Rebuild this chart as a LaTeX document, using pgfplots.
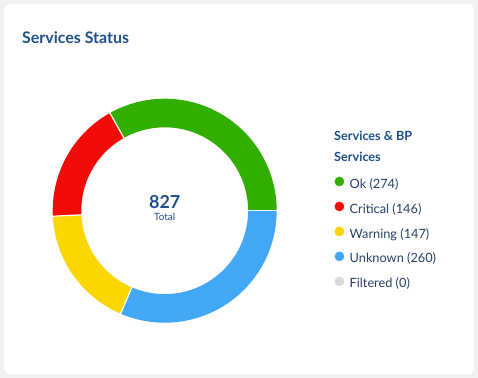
\documentclass[border=0pt]{standalone}
\usepackage{pgfplots}
\pgfplotsset{compat=1.18}
\usepackage{fontspec}
\setmainfont{Lato}
\definecolor{bgcol}{RGB}{240,241,243}
\definecolor{titlecol}{RGB}{30,79,138}
\definecolor{legtext}{RGB}{38,64,104}
\definecolor{okgreen}{RGB}{50,174,0}
\definecolor{critred}{RGB}{242,12,7}
\definecolor{warnyellow}{RGB}{252,214,0}
\definecolor{unkblue}{RGB}{66,167,245}
\definecolor{filtgray}{RGB}{217,217,217}
% counts
\newcommand\vOk{274}
\newcommand\vCrit{146}
\newcommand\vWarn{147}
\newcommand\vUnk{260}
\newcommand\vFilt{0}
\begin{document}
\begin{tikzpicture}
\pgfmathsetmacro\total{\vOk+\vCrit+\vWarn+\vUnk+\vFilt}
\pgfmathsetmacro\aU{-\vUnk/\total*360}
\pgfmathsetmacro\aW{\aU-\vWarn/\total*360}
\pgfmathsetmacro\aC{\aW-\vCrit/\total*360}
\path[use as bounding box] (0,0) rectangle (478bp,378bp);
\fill[bgcol] (0,0) rectangle (478bp,378bp);
\fill[white, rounded corners=6bp] (4bp,4bp) rectangle (474bp,374bp);
\node[anchor=base west, inner sep=0, font=\fontsize{16}{18}\selectfont\bfseries, text=titlecol] at (22bp,334bp) {Services Status};
\begin{axis}[x=1bp, y=1bp, hide axis, xmin=-120, xmax=120, ymin=-120, ymax=120,
  at={(164.7bp,167.3bp)}, anchor=origin, clip=false,
  legend style={at={(axis cs:169.7,34.2)}, anchor=north west, draw=none, fill=none,
    inner sep=0pt, font=\fontsize{12.8}{15}\selectfont, text=legtext,
    row sep=10.5bp, legend cell align=left,
    nodes={inner sep=0pt, text height=9.5bp, text depth=3bp},
    /tikz/every odd column/.append style={column sep=5.5bp}},
  legend image code/.code={\fill (4.6bp,3.4bp) circle (4.6bp);}]
\addplot[forget plot, okgreen, line width=28.6bp, domain=-360:\aC, samples=120] ({97.7*cos(x)},{97.7*sin(x)});
\addplot[forget plot, critred, line width=28.6bp, domain=\aC:\aW, samples=80] ({97.7*cos(x)},{97.7*sin(x)});
\addplot[forget plot, warnyellow, line width=28.6bp, domain=\aW:\aU, samples=80] ({97.7*cos(x)},{97.7*sin(x)});
\addplot[forget plot, unkblue, line width=28.6bp, domain=\aU:0, samples=120] ({97.7*cos(x)},{97.7*sin(x)});
\foreach \a in {0,\aU,\aW,\aC} {
  \addplot[forget plot, white, line width=1.2bp, domain=83:113, samples=2] ({x*cos(\a)},{x*sin(\a)});
}
\addlegendimage{okgreen}\addlegendentry{Ok (274)}
\addlegendimage{critred}\addlegendentry{Critical (146)}
\addlegendimage{warnyellow}\addlegendentry{Warning (147)}
\addlegendimage{unkblue}\addlegendentry{Unknown (260)}
\addlegendimage{filtgray}\addlegendentry{Filtered (0)}
\end{axis}
\node[anchor=base, inner sep=0, font=\fontsize{18}{20}\selectfont\bfseries, text=titlecol] at (164.7bp,169bp) {827};
\node[anchor=base, inner sep=0, font=\fontsize{10}{12}\selectfont, text=titlecol] at (164.7bp,157bp) {Total};
\node[anchor=base west, inner sep=0, font=\fontsize{12.7}{14}\selectfont\bfseries, text=titlecol] at (334bp,237bp) {Services \& BP};
\node[anchor=base west, inner sep=0, font=\fontsize{12.7}{14}\selectfont\bfseries, text=titlecol] at (334bp,216.3bp) {Services};
\end{tikzpicture}
\end{document}
